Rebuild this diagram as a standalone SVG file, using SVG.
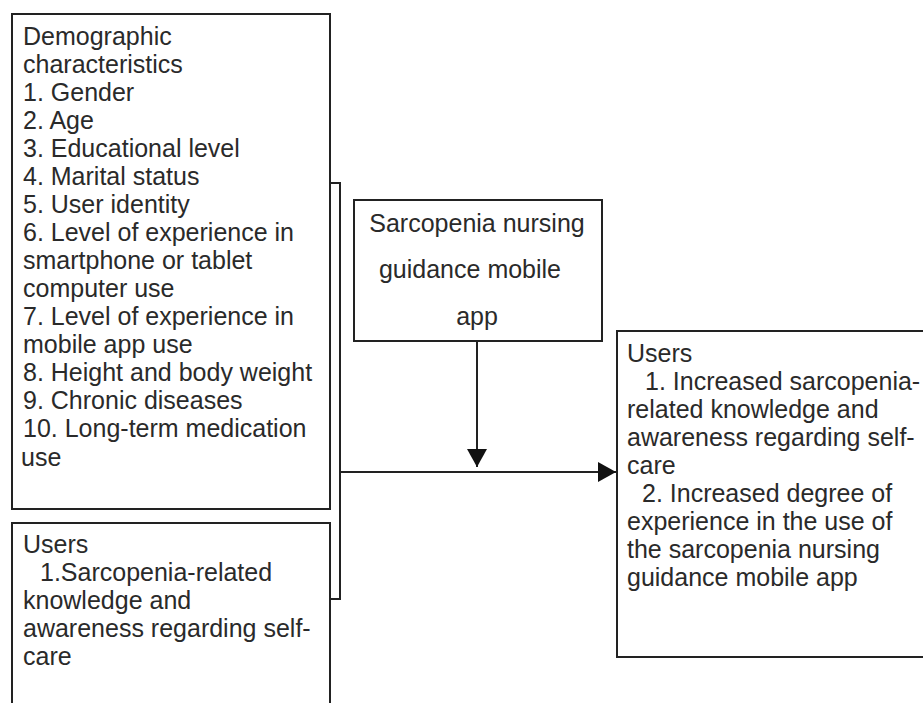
<svg xmlns="http://www.w3.org/2000/svg" width="923" height="703" viewBox="0 0 923 703">
<style>
.box{fill:#fff;stroke:#222;stroke-width:2}
.ln{fill:none;stroke:#222;stroke-width:2}
text{font-family:"Liberation Sans",Arial,sans-serif;font-size:25px;fill:#2a2a2a}
</style>
<defs>
<marker id="ah" viewBox="0 0 18 20" refX="18" refY="10" markerWidth="18" markerHeight="20" markerUnits="userSpaceOnUse" orient="auto">
<path d="M0,0 L18,10 L0,20 Z" fill="#111"/>
</marker>
</defs>
<rect width="923" height="703" fill="#fff"/>
<g id="connectors">
<polyline class="ln" points="330,183 340,183 340,599 330,599"/>
<line class="ln" x1="340" y1="472" x2="616" y2="472" marker-end="url(#ah)"/>
<line class="ln" x1="477" y1="341" x2="477" y2="467" marker-end="url(#ah)"/>
</g>
<g id="demographics">
<rect class="box" x="12" y="14" width="318" height="495"/>
<text x="23" y="45">Demographic</text>
<text x="23" y="73">characteristics</text>
<text x="23" y="101">1. Gender</text>
<text x="23" y="129">2. Age</text>
<text x="23" y="157">3. Educational level</text>
<text x="23" y="185">4. Marital status</text>
<text x="23" y="213">5. User identity</text>
<text x="23" y="241">6. Level of experience in</text>
<text x="23" y="269">smartphone or tablet</text>
<text x="23" y="297">computer use</text>
<text x="23" y="325">7. Level of experience in</text>
<text x="23" y="353">mobile app use</text>
<text x="23" y="381">8. Height and body weight</text>
<text x="23" y="409">9. Chronic diseases</text>
<text x="23" y="437">10. Long-term medication</text>
<text x="21" y="466">use</text>
</g>
<g id="users-before">
<rect class="box" x="12" y="523" width="318" height="200"/>
<text x="23" y="553">Users</text>
<text x="40" y="581">1.Sarcopenia-related</text>
<text x="23" y="609">knowledge and</text>
<text x="23" y="637">awareness regarding self-</text>
<text x="23" y="665">care</text>
</g>
<g id="app">
<rect class="box" x="354" y="200" width="248" height="141"/>
<text x="477" y="232" text-anchor="middle">Sarcopenia nursing</text>
<text x="470" y="278" text-anchor="middle">guidance mobile</text>
<text x="477" y="325" text-anchor="middle">app</text>
</g>
<g id="users-after">
<rect class="box" x="617" y="331" width="330" height="326"/>
<text x="627" y="362">Users</text>
<text x="645" y="390">1. Increased sarcopenia-</text>
<text x="627" y="418">related knowledge and</text>
<text x="627" y="446">awareness regarding self-</text>
<text x="627" y="474">care</text>
<text x="642" y="502">2. Increased degree of</text>
<text x="627" y="530">experience in the use of</text>
<text x="627" y="558">the sarcopenia nursing</text>
<text x="627" y="586">guidance mobile app</text>
</g>
</svg>
